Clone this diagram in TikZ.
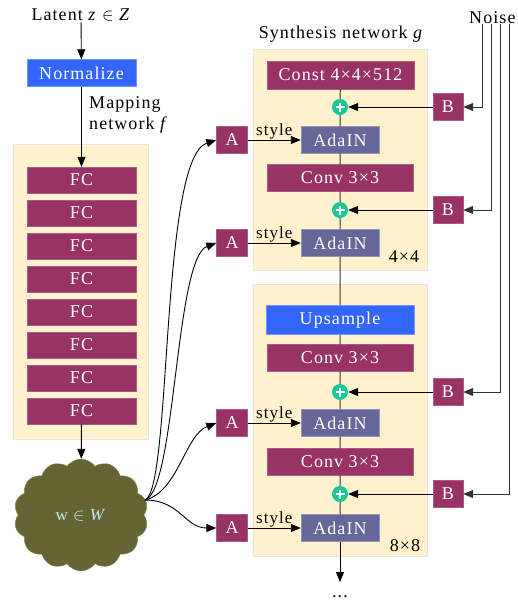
\documentclass[tikz,border=0pt]{standalone}
\usepackage{fontspec}
\setmainfont{Liberation Serif}[LetterSpace=6]
\usetikzlibrary{arrows.meta,shapes.symbols}
\definecolor{maroon}{RGB}{153,51,102}
\definecolor{nblue}{RGB}{51,102,255}
\definecolor{slate}{RGB}{102,102,153}
\definecolor{tealp}{RGB}{26,199,150}
\definecolor{bgy}{RGB}{255,242,204}
\definecolor{olive}{RGB}{101,101,51}
\definecolor{lnc}{RGB}{50,50,50}
\definecolor{cloudtxt}{RGB}{205,232,255}
\tikzset{
  blk/.style={rectangle, inner sep=0pt, text=white, minimum height=27pt},
  fcbox/.style={blk, fill=maroon, draw=maroon!80!white, minimum width=109pt, minimum height=26pt},
  bluebox/.style={blk, fill=nblue, draw=nblue!70!white},
  convbox/.style={blk, fill=maroon, draw=maroon!80!white, minimum width=146pt},
  adabox/.style={blk, fill=slate, draw=slate!70!white, minimum width=78pt},
  abox/.style={blk, fill=maroon, draw=maroon!80!white, minimum width=31pt},
  bbox/.style={blk, fill=maroon, draw=maroon!80!white, minimum width=30pt},
  plusn/.style={circle, fill=tealp, minimum size=16pt, inner sep=0pt,
    path picture={\draw[white, line width=1.6pt]
      ([xshift=-4.5pt]path picture bounding box.center) -- ([xshift=4.5pt]path picture bounding box.center)
      ([yshift=-4.5pt]path picture bounding box.center) -- ([yshift=4.5pt]path picture bounding box.center);}},
  bgbox/.style={fill=bgy, draw=black!10},
  arr/.style={-{Triangle[length=10pt,width=8pt]}, line width=0.9pt, draw=black},
  mainline/.style={line width=1pt, draw=lnc},
  noiseline/.style={-{Triangle[length=10pt,width=8pt]}, line width=0.9pt, draw=lnc},
  lbl/.style={inner sep=1pt, text=black}
}
\begin{document}
\begin{tikzpicture}[x=1pt, y=-1pt, font=\fontsize{18}{21}\selectfont]
\useasboundingbox (0,0) rectangle (518,606);

% backgrounds
\path[bgbox] (13,144) rectangle (148,439);
\path[bgbox] (253,49) rectangle (427,270);
\path[bgbox] (253,284) rectangle (427,556);

% mapping network
\node[lbl] (latent) at (81,15) {Latent \textit{z} $\in$ \textit{Z}};
\node[bluebox, minimum width=109pt] (norm) at (81.5,73) {Normalize};
\node[lbl, align=left, anchor=west] (maplbl) at (88,115) {Mapping\\network \textit{f}};
\foreach \i in {1,...,8} {
  \node[fcbox] (fc\i) at (81.5,{180+33*(\i-1)}) {FC};
}
\node[cloud, cloud puffs=14, cloud puff arc=110, fill=olive, draw=olive!80!white,
      minimum width=134pt, minimum height=112pt, inner sep=0pt, text=cloudtxt,
      font=\fontsize{17}{20}\selectfont] (w) at (81,515) {w $\in$ \textit{W}};
\coordinate (wo) at (145,500);

\draw[arr] (latent) -- (norm);
\draw[arr] (norm) -- (fc1);
\draw[arr] (fc8) -- (w);

% synthesis network
\node[lbl] (synlbl) at (341,34) {Synthesis network \textit{g}};
\node[blk, fill=maroon, draw=maroon!80!white, minimum width=147pt, minimum height=28pt] (const) at (340.5,75) {Const 4×4×512};
\node[plusn] (p1) at (340,107) {};
\node[adabox] (ada1) at (340,140) {AdaIN};
\node[convbox] (conv1) at (340,178) {Conv 3×3};
\node[plusn] (p2) at (340,210) {};
\node[adabox] (ada2) at (340,243) {AdaIN};
\node[lbl] (s4) at (404,257) {4×4};

\node[bluebox, minimum width=148pt, minimum height=29pt] (ups) at (340,320) {Upsample};
\node[convbox] (conv2) at (340,358) {Conv 3×3};
\node[plusn] (p3) at (340,392) {};
\node[adabox] (ada3) at (340,423) {AdaIN};
\node[convbox] (conv3) at (340,462) {Conv 3×3};
\node[plusn] (p4) at (340,494) {};
\node[adabox] (ada4) at (340,528) {AdaIN};
\node[lbl] (s8) at (405,546) {8×8};
\coordinate (outend) at (340,582);
\node[lbl] (dots) at (340,597) {...};

\draw[mainline] (const) -- (p1) -- (ada1) -- (conv1) -- (p2) -- (ada2) -- (ups) -- (conv2) -- (p3) -- (ada3) -- (conv3) -- (p4) -- (ada4);
\draw[arr] (ada4) -- (outend);

% A nodes
\node[abox] (a1) at (232,140) {A};
\node[abox] (a2) at (232,243) {A};
\node[abox] (a3) at (232,423) {A};
\node[abox] (a4) at (232,528) {A};
\foreach \i in {1,...,4} {
  \draw[arr] (a\i) -- (ada\i) node[midway, above=-1pt, lbl, font=\fontsize{17}{19}\selectfont] {style};
}
\draw[arr] (wo) .. controls (172,490) and (160,158) .. (a1.west);
\draw[arr] (wo) .. controls (176,490) and (175,258) .. (a2.west);
\draw[arr] (wo) .. controls (178,492) and (185,435) .. (a3.west);
\draw[arr] (wo) .. controls (180,500) and (185,528) .. (a4.west);

% B nodes and noise
\node[bbox] (b1) at (448,107) {B};
\node[bbox] (b2) at (448,210) {B};
\node[bbox] (b3) at (448,392) {B};
\node[bbox] (b4) at (448,494) {B};
\node[lbl, anchor=west] (noise) at (468,18) {Noise};
\coordinate (n1) at (482,24);
\coordinate (n2) at (491,24);
\coordinate (n3) at (500,24);
\coordinate (n4) at (509,24);
\foreach \i in {1,...,4} {
  \draw[noiseline] (n\i) |- (b\i);
  \draw[arr] (b\i) -- (p\i);
}
\end{tikzpicture}
\end{document}
